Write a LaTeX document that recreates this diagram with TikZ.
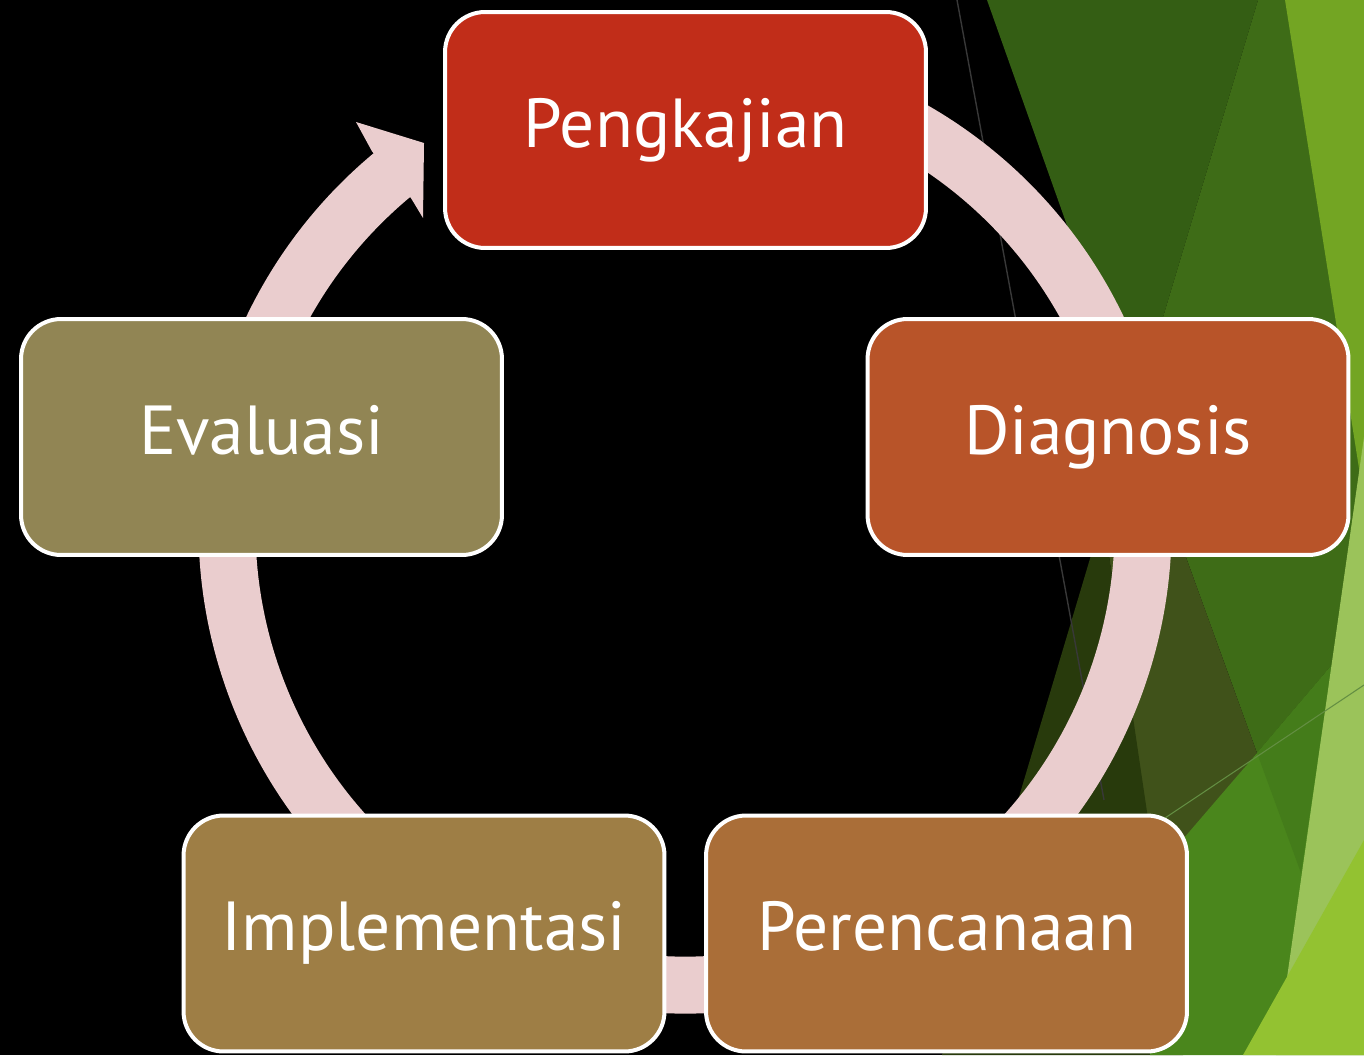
\documentclass[tikz,border=0pt]{standalone}
\usepackage{fontspec}
\setmainfont{PT Sans}

\definecolor{kaji}{HTML}{C12D19}
\definecolor{diag}{HTML}{B85429}
\definecolor{renc}{HTML}{AA6E38}
\definecolor{impl}{HTML}{9E7E45}
\definecolor{eval}{HTML}{918554}
\definecolor{ringpink}{HTML}{EACDCE}
\definecolor{facetA}{RGB}{52,94,20}
\definecolor{facetB}{RGB}{62,108,23}
\definecolor{facetC}{RGB}{64,82,26}
\definecolor{facetD}{RGB}{40,58,12}
\definecolor{facetE}{RGB}{74,134,28}
\definecolor{facetF}{RGB}{68,124,26}
\definecolor{facetG}{RGB}{115,165,35}
\definecolor{facetH}{RGB}{155,195,90}
\definecolor{facetI}{RGB}{147,194,49}

\def\foo{\vphantom{gjP}}

\begin{document}
\begin{tikzpicture}[x=0.02cm,y=-0.02cm,
  every text node part/.style={align=center},
  stage/.style={draw=white,line width=0.08cm,rounded corners=0.8cm,
    minimum width=9.62cm,minimum height=4.72cm,inner sep=0pt,
    text=white,font=\fontsize{39.5}{48}\selectfont},
  ring/.style={draw=ringpink,line width=1.14cm}]
  \useasboundingbox (0,0) rectangle (1364,1055);
  \fill[black] (0,0) rectangle (1364,1055);

  % green facets on the right
  \fill[facetA] (987,0) -- (1258,0) -- (1134,414) -- cycle;
  \fill[facetB] (1258,0) -- (1364,0) -- (1364,627) -- (1257,753) -- (1134,414) -- cycle;
  \fill[facetC] (1134,414) -- (1257,753) -- (1187,837) -- (1150,837) -- (1103,515) -- cycle;
  \fill[facetD] (1103,515) -- (942,1055) -- (1183,1055) -- cycle;
  \fill[facetE] (1165,860) -- (1257,753) -- (1364,627) -- (1364,1055) -- (1150,1055) -- cycle;
  \fill[facetF] (1257,753) -- (1332,665) -- (1301,873) -- cycle;
  \fill[facetG] (1285,0) -- (1364,0) -- (1364,500) -- cycle;
  \fill[facetH] (1364,437) -- (1364,1055) -- (1276,1055) -- cycle;
  \fill[facetI] (1364,840) -- (1243,1055) -- (1364,1055) -- cycle;
  \draw[line width=0.8pt,black!78!white] (957,0) -- (1104,800);
  \draw[line width=0.6pt,facetE!80!white!90!black] (1165,818) -- (1364,685);

  % cycle ring and arrow
  \coordinate (hub) at (685,527);
  \draw[ring] (hub) ++(-115:458) arc[start angle=-115,end angle=231.5,radius=458];
  \fill[ringpink] ([shift={(hub)}]230.2:489) -- (356,122) -- (424,143)
    -- (423,218) -- ([shift={(hub)}]230.2:428) -- cycle;

  \node[stage,fill=kaji] (0) at (685.5,130) {Pengkajian\foo};
  \node[stage,fill=diag] (1) at (1108,437) {Diagnosis\foo};
  \node[stage,fill=renc] (2) at (946.5,933.5) {Perencanaan\foo};
  \node[stage,fill=impl] (3) at (424,933.5) {Implementasi\foo};
  \node[stage,fill=eval] (4) at (261.5,437) {Evaluasi\foo};
\end{tikzpicture}
\end{document}
